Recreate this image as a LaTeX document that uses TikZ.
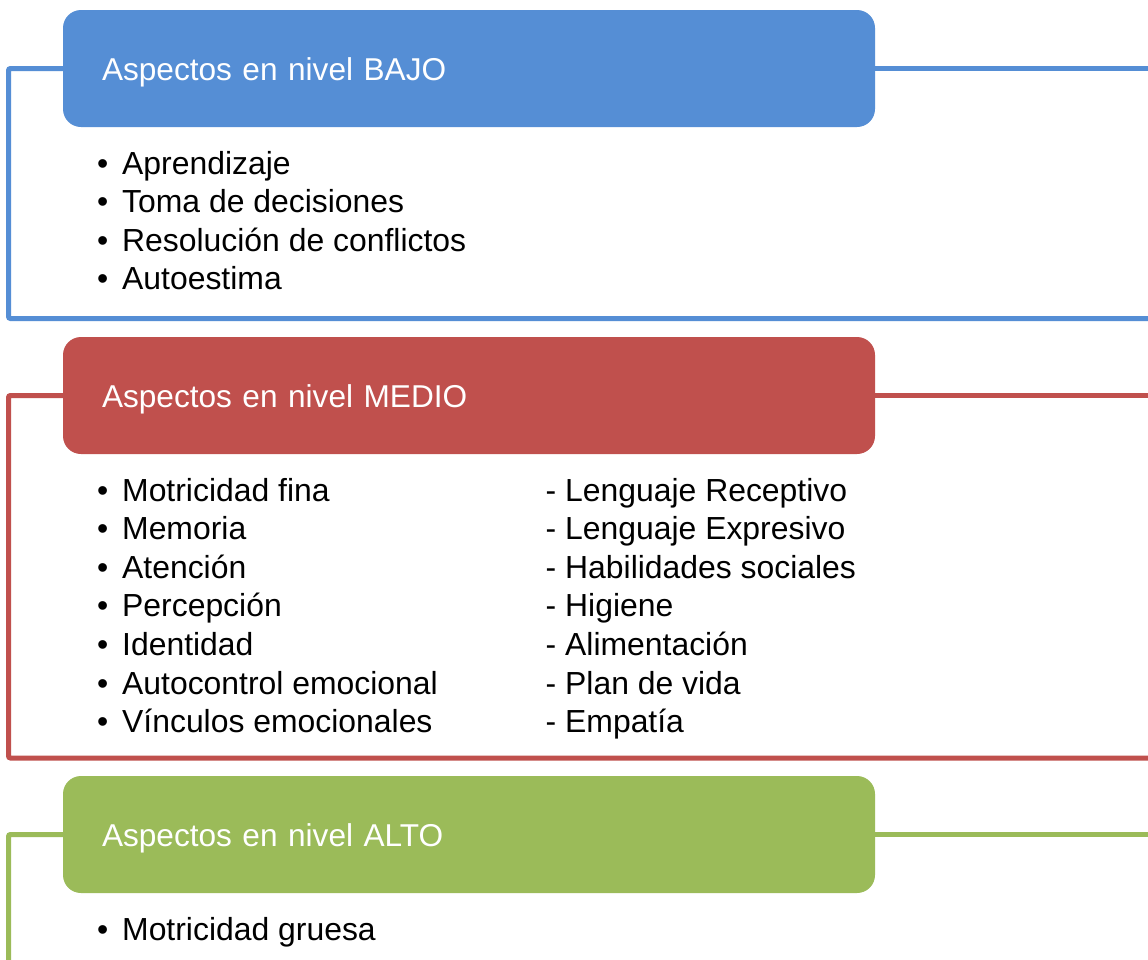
\documentclass[tikz,border=0pt]{standalone}
\usepackage{fontspec}
\setmainfont{Liberation Sans}
\definecolor{cblue}{HTML}{558ED5}
\definecolor{cred}{HTML}{C0504D}
\definecolor{cgreen}{HTML}{9BBB59}
\tikzset{
  header/.style={rectangle, rounded corners=18pt, draw=none, minimum width=812pt, minimum height=117pt,
    text width=734pt, align=left, inner xsep=39pt, inner ysep=0pt, text=white,
    font=\fontsize{31.6}{38}\selectfont, text height=23pt, text depth=0pt},
  frame/.style={line width=5pt, rounded corners=2pt},
  item/.style={anchor=base west, inner sep=0pt, font=\fontsize{31.9}{38}\selectfont, text=black}
}
\newcommand{\bul}{\makebox[25pt][l]{•}}
\begin{document}
\begin{tikzpicture}[x=1pt,y=-1pt]
\useasboundingbox (0,0) rectangle (1148,959);
\clip (0,0) rectangle (1148,959);
\fill[white] (0,0) rectangle (1148,959);
% headers
\node[header, fill=cblue] (bajo) at (469,68.5) {Aspectos en nivel BAJO};
\node[header, fill=cred] (medio) at (469,395.5) {Aspectos en nivel MEDIO};
\node[header, fill=cgreen] (alto) at (469,834.5) {Aspectos en nivel ALTO};
% frame corners
\coordinate (bajoBL) at (8.5,318.5);
\coordinate (bajoBR) at (1170,318.5);
\coordinate (bajoTR) at (1170,68.5);
\coordinate (medioBL) at (8.5,758);
\coordinate (medioBR) at (1170,758);
\coordinate (medioTR) at (1170,395.5);
\coordinate (altoBL) at (8.5,1000);
\coordinate (altoTR) at (1170,834.5);
% frames
\draw[frame, cblue] (bajo.west) -| (bajoBL) -- (bajoBR);
\draw[frame, cblue] (bajo.east) -- (bajoTR);
\draw[frame, cred] (medio.west) -| (medioBL) -- (medioBR);
\draw[frame, cred] (medio.east) -- (medioTR);
\draw[frame, cgreen] (alto.west) -| (altoBL);
\draw[frame, cgreen] (alto.east) -- (altoTR);
% lists
\foreach \t [count=\i] in {Aprendizaje, Toma de decisiones, Resolución de conflictos, Autoestima}
  \node[item] (b\i) at (97,174+38.6*\i-38.6) {\bul\t};
\foreach \t [count=\i] in {Motricidad fina, Memoria, Atención, Percepción, Identidad, Autocontrol emocional, Vínculos emocionales}
  \node[item] (m\i) at (97,501+38.6*\i-38.6) {\bul\t};
\foreach \t [count=\i] in {- Lenguaje Receptivo, - Lenguaje Expresivo, - Habilidades sociales, - Higiene, - Alimentación, - Plan de vida, - Empatía}
  \node[item] (n\i) at (545.5,501+38.6*\i-38.6) {\t};
\node[item] (a1) at (97,940.5) {\bul Motricidad gruesa};
\end{tikzpicture}
\end{document}
